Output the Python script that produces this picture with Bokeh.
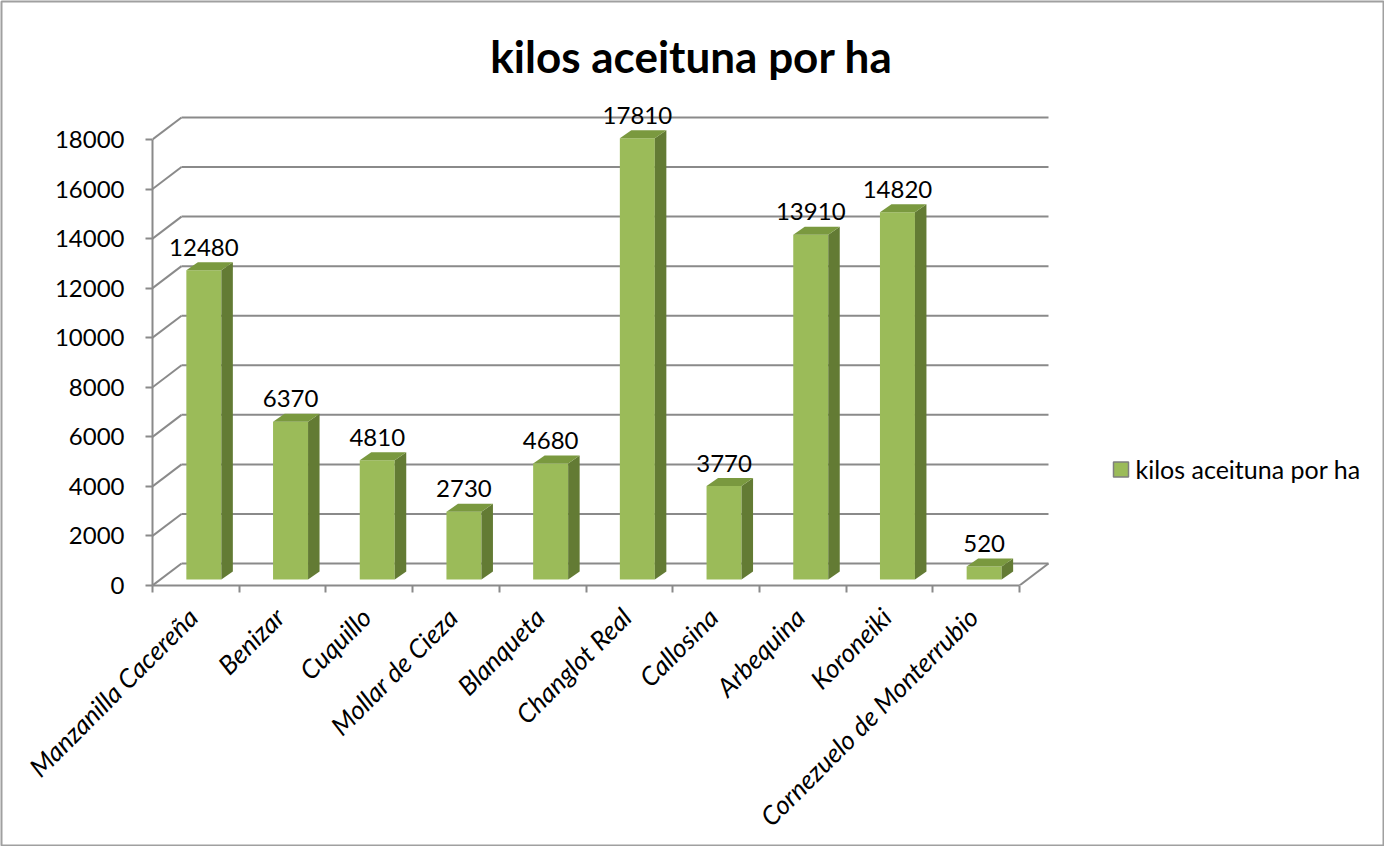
import math
from bokeh.plotting import figure
from bokeh.models import Range1d, FixedTicker, CustomJSTickFormatter
from bokeh.embed import file_html
from bokeh.resources import INLINE
from bokeh.core.properties import value

# ---------------- data ----------------
categories = ["Manzanilla Cacereña", "Benizar", "Cuquillo", "Mollar de Cieza", "Blanqueta",
              "Changlot Real", "Callosina", "Arbequina", "Koroneiki", "Cornezuelo de Monterrubio"]
kilos = [12480, 6370, 4810, 2730, 4680, 17810, 3770, 13910, 14820, 520]
y_ticks = [0, 2000, 4000, 6000, 8000, 10000, 12000, 14000, 16000, 18000]
series_name = "kilos aceituna por ha"
title_text = "kilos aceituna por ha"

# ---------------- layout / style ----------------
FONT = "Lato"
W, H = 1384, 846
B_LEFT, B_BOTTOM = 152, 261
FRAME_W, FRAME_H = W - B_LEFT, H - B_BOTTOM
PXX = 86.7                 # pixels per category
PXY = 446.0 / 18000.0      # pixels per kilo unit
BASELINE_FIX = 0.375       # svg alphabetic baseline correction (em)

def dx(px):
    return px / PXX

def dy(px):
    return px / PXY

# page-pixel helpers (frame left at page x=160, value 0 at page y=593)
def X(page_px):
    return dx(page_px - 160)

def Y(page_px):
    return dy(593 - page_px)

FRONT = "#9BBB59"
TOP = "#7A993F"
SIDE = "#637B34"
GRID = "#8A8A8A"

p = figure(width=W, height=H, output_backend="svg", toolbar_location=None,
           x_range=Range1d(0, FRAME_W / PXX), y_range=Range1d(0, FRAME_H / PXY),
           min_border_left=B_LEFT, min_border_right=0, min_border_top=0,
           min_border_bottom=B_BOTTOM)
p.outline_line_color = None
p.xgrid.visible = False
p.ygrid.visible = False
p.background_fill_color = "white"
p.border_fill_color = "white"

n = len(kilos)
DEPTH_X, DEPTH_Y = dx(29), dy(22)

# back wall grid lines and left-wall diagonals
p.segment(x0=[DEPTH_X] * len(y_ticks), y0=[v + DEPTH_Y for v in y_ticks],
          x1=[n + DEPTH_X] * len(y_ticks), y1=[v + DEPTH_Y for v in y_ticks],
          line_color=GRID, line_width=2)
p.segment(x0=[0] * len(y_ticks), y0=y_ticks,
          x1=[DEPTH_X] * len(y_ticks), y1=[v + DEPTH_Y for v in y_ticks],
          line_color=GRID, line_width=2)
# right floor diagonal
p.segment(x0=[n], y0=[0], x1=[n + DEPTH_X], y1=[DEPTH_Y], line_color=GRID, line_width=2)

# bars
centers = [i + 0.5 + dx(8) for i in range(n)]
half = dx(17.5)
base = dy(6)
bx, by = dx(11.5), dy(8)
lefts = [c - half for c in centers]
rights = [c + half for c in centers]
tops = [base + v for v in kilos]

p.quad(left=lefts, right=rights, bottom=[base] * n, top=tops,
       fill_color=FRONT, line_color=None)
p.patches(xs=[[r, r + bx, r + bx, r] for r in rights],
          ys=[[base, base + by, t + by, t] for t in tops],
          fill_color=SIDE, line_color=None)
p.patches(xs=[[l, l + bx, r + bx, r] for l, r in zip(lefts, rights)],
          ys=[[t, t + by, t + by, t] for t in tops],
          fill_color=TOP, line_color=None)

# value labels
p.text(x=centers, y=[t + by + dy(6 + BASELINE_FIX * 24) for t in tops],
       text=[str(v) for v in kilos],
       text_align="center", text_baseline="alphabetic",
       text_font=value(FONT), text_font_size="24px", text_color="black")

# title
p.text(x=[X(699)], y=[Y(80 - BASELINE_FIX * 44)], text=[title_text], text_align="center",
       text_baseline="alphabetic", text_font=value(FONT), text_font_size="44px",
       text_font_style="bold", text_color="black")

# axes
p.yaxis.bounds = (0, y_ticks[-1])
p.yaxis.ticker = FixedTicker(ticks=y_ticks)
p.yaxis.axis_line_color = GRID
p.yaxis.axis_line_width = 2
p.yaxis.major_tick_line_color = GRID
p.yaxis.major_tick_line_width = 2
p.yaxis.major_tick_out = 7
p.yaxis.major_tick_in = 0
p.yaxis.minor_tick_line_color = None
p.yaxis.major_label_standoff = 21
p.yaxis.major_label_text_font = FONT
p.yaxis.major_label_text_font_size = "24px"
p.yaxis.major_label_text_color = "black"

p.xaxis.bounds = (0, n)
p.xaxis.ticker = FixedTicker(ticks=[i + 0.5 - dx(3) for i in range(n)],
                             minor_ticks=list(range(n + 1)))
p.xaxis.formatter = CustomJSTickFormatter(
    args=dict(names=categories),
    code="const i = Math.floor(tick); return (i >= 0 && i < names.length) ? names[i] : '';")
p.xaxis.axis_line_color = GRID
p.xaxis.axis_line_width = 2
p.xaxis.major_tick_line_color = None
p.xaxis.major_tick_out = 0
p.xaxis.major_tick_in = 0
p.xaxis.minor_tick_line_color = GRID
p.xaxis.minor_tick_line_width = 2
p.xaxis.minor_tick_out = 7
p.xaxis.minor_tick_in = 0
p.xaxis.major_label_orientation = math.pi / 4
p.xaxis.major_label_standoff = 20
p.xaxis.major_label_text_font = FONT
p.xaxis.major_label_text_font_style = "italic"
p.xaxis.major_label_text_font_size = "26px"
p.xaxis.major_label_text_color = "black"

# legend (key square + label)
p.rect(x=[X(1128.5)], y=[Y(477)], width=15, height=15, width_units="screen",
       height_units="screen", fill_color=FRONT, line_color="#7F7F7F", line_width=1.5)
p.text(x=[X(1143)], y=[Y(486 - BASELINE_FIX * 25)], text=[series_name], text_align="left",
       text_baseline="alphabetic", text_font=value(FONT), text_font_size="25px",
       text_color="black")

# chart border
p.quad(left=[X(9)], right=[X(1391)], bottom=[Y(853)], top=[Y(9)],
       fill_alpha=0, line_color="#A0A0A0", line_width=2, level="overlay")

open("out.html", "w").write(file_html(p, INLINE))
